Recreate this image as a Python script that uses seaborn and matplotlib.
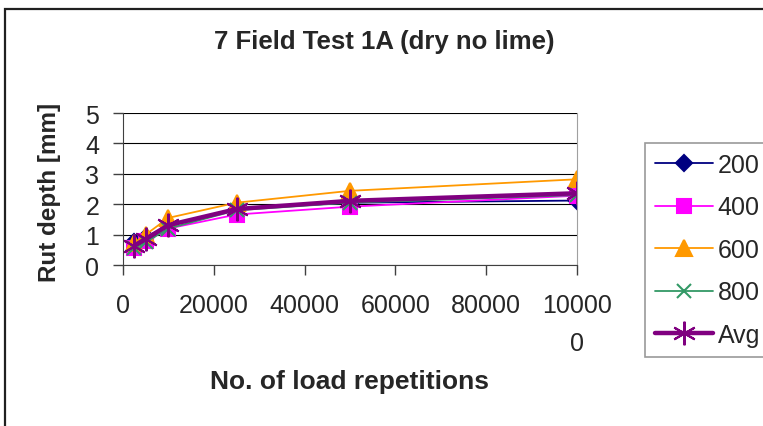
import matplotlib
matplotlib.use("Agg")
import matplotlib.pyplot as plt
import seaborn as sns
import pandas as pd
from matplotlib.patches import Rectangle

# Data
repetitions = [2500, 5000, 10000, 25000, 50000, 100000]
series_names = ["200", "400", "600", "800", "Avg"]
rut_200 = [0.75, 0.92, 1.30, 1.85, 2.05, 2.12]
rut_400 = [0.55, 0.78, 1.20, 1.66, 1.92, 2.28]
rut_600 = [0.72, 1.00, 1.55, 2.05, 2.44, 2.82]
rut_800 = [0.55, 0.75, 1.20, 1.80, 2.05, 2.30]
rut_avg = [0.64, 0.86, 1.31, 1.84, 2.11, 2.36]
x_tick_values = [0, 20000, 40000, 60000, 80000, 100000]
x_tick_labels = ["0", "20000", "40000", "60000", "80000", "10000\n0"]
y_tick_values = [0, 1, 2, 3, 4, 5]

values = [rut_200, rut_400, rut_600, rut_800, rut_avg]
df = pd.DataFrame({
    "reps": repetitions * len(series_names),
    "rut": sum(values, []),
    "series": [n for n in series_names for _ in repetitions],
})

sns.set_style("white")
plt.rcParams["font.family"] = ["Liberation Sans", "DejaVu Sans"]

W, H = 763, 427
fig = plt.figure(figsize=(W / 100, H / 100), dpi=100)
ax = fig.add_axes([123 / W, (H - 266) / H, 454 / W, 152 / H])

colors = {"200": "#000080", "400": "#FF00FF", "600": "#FF9900",
          "800": "#339966", "Avg": "#800080"}
markers = {"200": "D", "400": "s", "600": "^", "800": "x", "Avg": (6, 2, 0)}
msizes = {"200": 8, "400": 10, "600": 11, "800": 10, "Avg": 17}
lws = {"200": 1.3, "400": 1.3, "600": 1.3, "800": 1.3, "Avg": 3.2}

for name in series_names:
    sub = df[df["series"] == name]
    sns.lineplot(data=sub, x="reps", y="rut", ax=ax, color=colors[name],
                 marker=markers[name], markersize=msizes[name],
                 markeredgecolor=colors[name], markeredgewidth=1.5,
                 linewidth=lws[name], label=name, legend=False)

ax.set_xlim(0, 100000)
ax.set_ylim(0, 5)
ax.set_xticks(x_tick_values)
ax.set_xticklabels(x_tick_labels, fontsize=18)
for t in ax.get_xticklabels():
    t.set_linespacing(1.75)
ax.set_yticks(y_tick_values)
ax.set_yticklabels([str(v) for v in y_tick_values], fontsize=18)
ax.tick_params(axis="x", bottom=True, direction="out", length=7, width=1,
               color="#404040", pad=13)
ax.tick_params(axis="y", left=True, direction="out", length=7, width=1,
               color="#404040", pad=10)
ax.yaxis.grid(True, color="#000000", linewidth=0.8)
ax.xaxis.grid(False)
ax.spines["top"].set_visible(False)
ax.spines["right"].set_color("#A0A0A0")
ax.spines["right"].set_linewidth(0.8)
ax.spines["left"].set_color("#404040")
ax.spines["bottom"].set_color("#404040")
ax.set_xlabel("")
ax.set_ylabel("")

fig.text(384 / W, 1 - 42 / H, "7 Field Test 1A (dry no lime)", fontsize=18.5,
         fontweight="bold", ha="center", va="center")
fig.text(50 / W, 1 - 192 / H, "Rut depth [mm]", fontsize=17.5, fontweight="bold",
         rotation=90, ha="center", va="center")
fig.text(350 / W, 1 - 382 / H, "No. of load repetitions", fontsize=19,
         fontweight="bold", ha="center", va="center")

handles, labels = ax.get_legend_handles_labels()
leg = fig.legend(handles, labels, loc="upper left",
                 bbox_to_anchor=(645 / W, 1 - 144 / H), frameon=True,
                 fancybox=False, edgecolor="#808080", fontsize=18,
                 handlelength=2.3, handletextpad=0.2, labelspacing=0.74,
                 borderpad=0.4, borderaxespad=0)
leg.get_frame().set_linewidth(1.2)

fig.patches.append(Rectangle((5 / W, -0.05), 1.0, 1 - 10 / H + 0.05,
                             transform=fig.transFigure, fill=False,
                             edgecolor="#202020", linewidth=1.6))

fig.savefig("out.png", dpi=100)
